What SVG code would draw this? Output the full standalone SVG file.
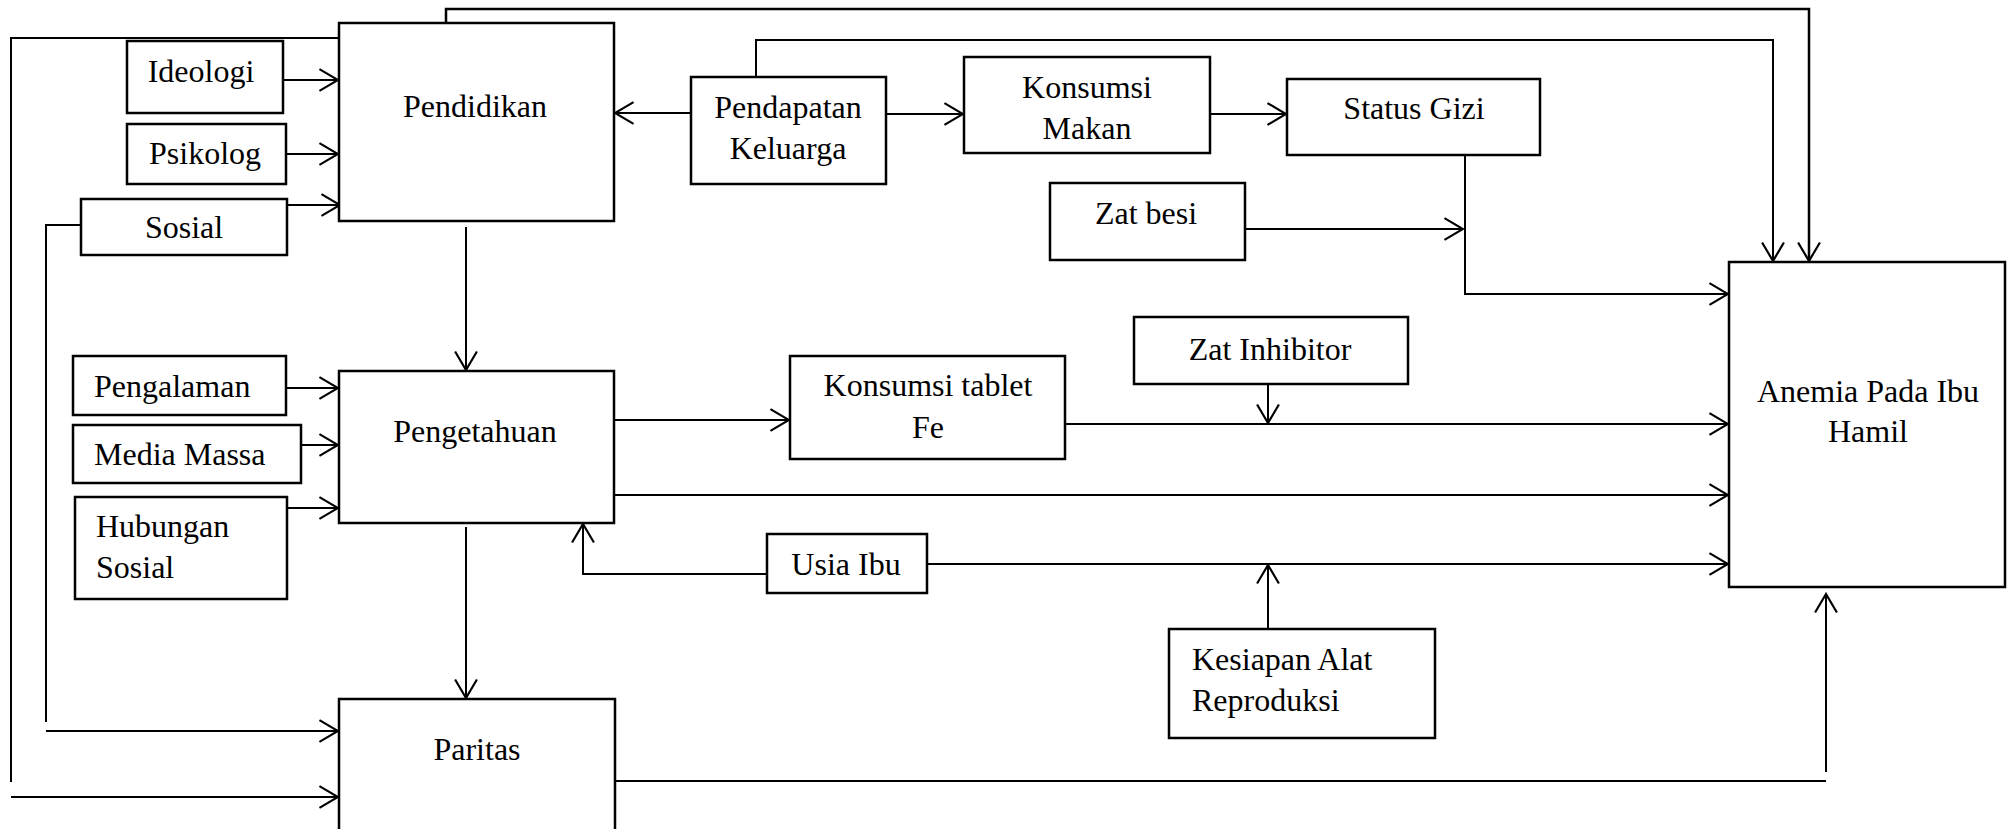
<svg xmlns="http://www.w3.org/2000/svg" width="2008" height="829" viewBox="0 0 2008 829">
<defs>
<style>
.box{fill:#fff;stroke:#000;stroke-width:2.5}
.c{fill:none;stroke:#000;stroke-width:2}
.t{font-family:"Liberation Serif","Times New Roman",serif;font-size:32px;fill:#000}
.m{text-anchor:middle}
</style>
<marker id="ah" markerUnits="userSpaceOnUse" markerWidth="22" markerHeight="24" viewBox="-1 -1 20 22" refX="17" refY="10" orient="auto">
<path d="M0,0 L17,10 L0,20" fill="none" stroke="#000" stroke-width="2"/>
</marker>
</defs>
<rect width="2008" height="829" fill="#fff"/>

<g id="connectors">
<path class="c" d="M283,80 L338,80" marker-end="url(#ah)"/>
<path class="c" d="M286,154 L338,154" marker-end="url(#ah)"/>
<path class="c" d="M287,205 L340,205" marker-end="url(#ah)"/>
<path class="c" d="M691,113 L615,113" marker-end="url(#ah)"/>
<path class="c" d="M886,114 L963,114" marker-end="url(#ah)"/>
<path class="c" d="M1210,114 L1286,114" marker-end="url(#ah)"/>
<path class="c" d="M446,23 L446,9 L1809,9 L1809,261" marker-end="url(#ah)" style="stroke-width:2.5"/>
<path class="c" d="M756,77 L756,40 L1773,40 L1773,261" marker-end="url(#ah)"/>
<path class="c" d="M1465,155 L1465,294 L1728,294" marker-end="url(#ah)"/>
<path class="c" d="M1245,229 L1463,229" marker-end="url(#ah)"/>
<path class="c" d="M339,38 L11,38 L11,782"/>
<path class="c" d="M11,797 L338,797" marker-end="url(#ah)"/>
<path class="c" d="M81,225 L46,225 L46,722"/>
<path class="c" d="M46,731 L338,731" marker-end="url(#ah)"/>
<path class="c" d="M466,227 L466,370" marker-end="url(#ah)"/>
<path class="c" d="M286,388 L338,388" marker-end="url(#ah)"/>
<path class="c" d="M301,445 L338,445" marker-end="url(#ah)"/>
<path class="c" d="M287,508 L338,508" marker-end="url(#ah)"/>
<path class="c" d="M614,420 L789,420" marker-end="url(#ah)"/>
<path class="c" d="M1065,424 L1728,424" marker-end="url(#ah)"/>
<path class="c" d="M1268,384 L1268,423" marker-end="url(#ah)"/>
<path class="c" d="M610,495 L1728,495" marker-end="url(#ah)"/>
<path class="c" d="M767,574 L583,574 L583,524" marker-end="url(#ah)"/>
<path class="c" d="M927,564 L1728,564" marker-end="url(#ah)"/>
<path class="c" d="M1268,629 L1268,565" marker-end="url(#ah)"/>
<path class="c" d="M466,527 L466,698" marker-end="url(#ah)"/>
<path class="c" d="M615,781 L1826,781"/>
<path class="c" d="M1826,772 L1826,594" marker-end="url(#ah)"/>
</g>

<g id="pendidikan"><rect class="box" x="339" y="23" width="275" height="198"/><text class="t m" x="475" y="117">Pendidikan</text></g>
<g id="ideologi"><rect class="box" x="127" y="41" width="156" height="72"/><text class="t m" x="201" y="82">Ideologi</text></g>
<g id="psikolog"><rect class="box" x="127" y="124" width="159" height="60"/><text class="t m" x="205" y="164">Psikolog</text></g>
<g id="sosial"><rect class="box" x="81" y="199" width="206" height="56"/><text class="t m" x="184" y="238">Sosial</text></g>
<g id="pendapatan"><rect class="box" x="691" y="77" width="195" height="107"/><text class="t m" x="788" y="118">Pendapatan</text><text class="t m" x="788" y="159">Keluarga</text></g>
<g id="konsumsi-makan"><rect class="box" x="964" y="57" width="246" height="96"/><text class="t m" x="1087" y="98">Konsumsi</text><text class="t m" x="1087" y="139">Makan</text></g>
<g id="status-gizi"><rect class="box" x="1287" y="79" width="253" height="76"/><text class="t m" x="1414" y="119">Status Gizi</text></g>
<g id="zat-besi"><rect class="box" x="1050" y="183" width="195" height="77"/><text class="t m" x="1146" y="224">Zat besi</text></g>
<g id="anemia"><rect class="box" x="1729" y="262" width="276" height="325"/><text class="t m" x="1868" y="402">Anemia Pada Ibu</text><text class="t m" x="1868" y="442">Hamil</text></g>
<g id="pengalaman"><rect class="box" x="73" y="356" width="213" height="59"/><text class="t" x="94" y="397">Pengalaman</text></g>
<g id="media-massa"><rect class="box" x="73" y="425" width="228" height="58"/><text class="t" x="94" y="465">Media Massa</text></g>
<g id="hubungan-sosial"><rect class="box" x="75" y="497" width="212" height="102"/><text class="t" x="96" y="537">Hubungan</text><text class="t" x="96" y="578">Sosial</text></g>
<g id="pengetahuan"><rect class="box" x="339" y="371" width="275" height="152"/><text class="t m" x="475" y="442">Pengetahuan</text></g>
<g id="konsumsi-tablet"><rect class="box" x="790" y="356" width="275" height="103"/><text class="t m" x="928" y="396">Konsumsi tablet</text><text class="t m" x="928" y="438">Fe</text></g>
<g id="zat-inhibitor"><rect class="box" x="1134" y="317" width="274" height="67"/><text class="t m" x="1270" y="360">Zat Inhibitor</text></g>
<g id="usia-ibu"><rect class="box" x="767" y="534" width="160" height="59"/><text class="t m" x="846" y="575">Usia Ibu</text></g>
<g id="kesiapan"><rect class="box" x="1169" y="629" width="266" height="109"/><text class="t" x="1192" y="670">Kesiapan Alat</text><text class="t" x="1192" y="711">Reproduksi</text></g>
<g id="paritas"><rect class="box" x="339" y="699" width="276" height="150"/><text class="t m" x="477" y="760">Paritas</text></g>
</svg>
